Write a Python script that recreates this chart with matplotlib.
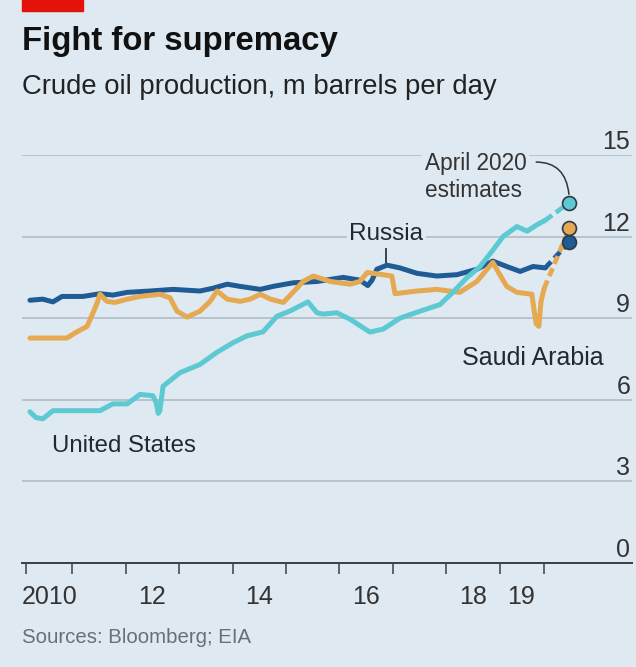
import matplotlib
matplotlib.use("Agg")
import matplotlib.pyplot as plt
import matplotlib.patches as patches

# Crude oil production, m barrels per day
us_years = [2010.21, 2010.32, 2010.45, 2010.64, 2010.96, 2011.52, 2011.76, 2012.03,
            2012.27, 2012.51, 2012.57, 2012.61, 2012.64, 2012.70, 2013.02, 2013.39,
            2013.71, 2014.01, 2014.27, 2014.57, 2014.83, 2015.07, 2015.41, 2015.58,
            2015.69, 2015.95, 2016.20, 2016.57, 2016.82, 2017.13, 2017.51, 2017.88,
            2018.12, 2018.39, 2018.63, 2018.87, 2019.06, 2019.32, 2019.51, 2019.70,
            2019.85]
us_values = [5.56, 5.35, 5.3, 5.6, 5.6, 5.6, 5.85, 5.85,
             6.2, 6.15, 5.9, 5.5, 5.6, 6.5, 7.0, 7.3,
             7.75, 8.1, 8.35, 8.5, 9.07, 9.26, 9.6, 9.2,
             9.15, 9.2, 8.96, 8.49, 8.6, 9.0, 9.26, 9.5,
             9.95, 10.5, 10.9, 11.5, 12.0, 12.37, 12.2, 12.44,
             12.6]

russia_years = [2010.21, 2010.45, 2010.64, 2010.81, 2011.20, 2011.52, 2011.76, 2012.03,
                2012.46, 2012.89, 2013.39, 2013.63, 2013.90, 2014.14, 2014.52, 2014.76,
                2015.13, 2015.58, 2016.07, 2016.38, 2016.53, 2016.61, 2016.70, 2016.89,
                2017.13, 2017.45, 2017.82, 2018.20, 2018.57, 2018.87, 2019.13, 2019.38,
                2019.62, 2019.85]
russia_values = [9.66, 9.7, 9.6, 9.8, 9.8, 9.9, 9.85, 9.95,
                 10.0, 10.06, 10.0, 10.1, 10.25, 10.17, 10.06, 10.17,
                 10.3, 10.35, 10.5, 10.4, 10.2, 10.4, 10.8, 10.95,
                 10.85, 10.65, 10.55, 10.6, 10.8, 11.1, 10.9, 10.72,
                 10.9, 10.85]

saudi_years = [2010.21, 2010.90, 2011.09, 2011.28, 2011.39, 2011.47, 2011.52, 2011.65,
               2011.80, 2012.03, 2012.27, 2012.64, 2012.83, 2012.96, 2013.15, 2013.39,
               2013.58, 2013.71, 2013.90, 2014.14, 2014.33, 2014.52, 2014.71, 2014.95,
               2015.13, 2015.32, 2015.51, 2015.83, 2016.20, 2016.38, 2016.52, 2016.81,
               2016.98, 2017.04, 2017.45, 2017.82, 2018.25, 2018.57, 2018.87, 2019.00,
               2019.13, 2019.32, 2019.60, 2019.64, 2019.68, 2019.73, 2019.77, 2019.83]
saudi_values = [8.27, 8.27, 8.5, 8.7, 9.2, 9.58, 9.88, 9.62,
                9.58, 9.7, 9.8, 9.88, 9.75, 9.26, 9.04, 9.26,
                9.62, 10.0, 9.7, 9.62, 9.7, 9.88, 9.7, 9.58,
                9.95, 10.35, 10.55, 10.35, 10.25, 10.35, 10.68, 10.6,
                10.55, 9.9, 10.0, 10.06, 9.95, 10.35, 11.05, 10.6,
                10.17, 9.95, 9.88, 9.3, 8.8, 8.7, 9.6, 10.1]

# April 2020 estimates
estimate_year = 2020.3
us_est = 13.25
saudi_est = 12.3
russia_est = 11.8

major_ticks = [2010.14, 2011, 2012, 2013, 2014, 2015, 2016, 2017, 2018, 2019, 2019.83]
label_pos = [2010.58, 2012.5, 2014.5, 2016.5, 2018.5, 2019.4]
label_text = ["2010", "12", "14", "16", "18", "19"]
y_levels = [0, 3, 6, 9, 12, 15]

BG = "#dfe9f1"
RUSSIA = "#1f5b95"
SAUDI = "#e5a951"
US = "#5dc9d2"
TXT = "#222831"
FONT = ["Liberation Sans", "DejaVu Sans"]

fig = plt.figure(figsize=(6.36, 6.67), dpi=100, facecolor=BG)
ax = fig.add_axes([22 / 636, 1 - 563 / 667, 610 / 636, 408 / 667])
ax.set_facecolor(BG)
ax.set_xlim(2010.061, 2021.473)
ax.set_ylim(0, 15)
for s in ["top", "left", "right"]:
    ax.spines[s].set_visible(False)
ax.spines["bottom"].set_color("#3a3f44")
ax.spines["bottom"].set_linewidth(1.4)

for v in y_levels[1:]:
    ax.axhline(v, color="#aeb8c0", lw=1.1, zorder=1)
for v in y_levels:
    ax.text(2021.44, v + 0.22, str(v), ha="right", va="baseline", fontsize=18,
            family=FONT, color="#333")

ax.set_yticks([])
ax.set_xticks(major_ticks)
ax.tick_params(axis="x", which="major", length=8, width=1.1, color="#3a3f44",
               labelbottom=False)
ax.set_xticks(label_pos, minor=True)
ax.set_xticklabels(label_text, minor=True)
ax.tick_params(axis="x", which="minor", length=0, pad=16, labelsize=18,
               labelcolor="#333")
for lbl in ax.get_xticklabels(minor=True):
    lbl.set_fontfamily(FONT)

# lines
ax.plot(russia_years, russia_values, color=RUSSIA, lw=3.6, zorder=3,
        solid_capstyle="round", solid_joinstyle="round")
ax.plot(saudi_years, saudi_values, color=SAUDI, lw=3.6, zorder=4,
        solid_capstyle="round", solid_joinstyle="round")
ax.plot(us_years, us_values, color=US, lw=3.6, zorder=5,
        solid_capstyle="round", solid_joinstyle="round")

for yrs, vals, est, col, z in [(russia_years, russia_values, russia_est, RUSSIA, 3),
                                (saudi_years, saudi_values, saudi_est, SAUDI, 4),
                                (us_years, us_values, us_est, US, 5)]:
    ax.plot([yrs[-1], estimate_year], [vals[-1], est], color=col, lw=3.4,
            dashes=(1.8, 1.0), zorder=z)
for est, col in [(russia_est, RUSSIA), (saudi_est, SAUDI), (us_est, US)]:
    ax.plot(estimate_year, est, "o", ms=10, mfc=col, mec="#2b3a48", mew=1.2,
            zorder=7, clip_on=False)

# annotations
box = dict(fc=BG, ec="none", pad=2)
ax.plot([2016.875, 2016.875], [10.98, 11.6], color=TXT, lw=1.2, zorder=2)
ax.text(2016.875, 11.87, "Russia", ha="center", va="baseline", fontsize=17.5,
        family=FONT, color=TXT, bbox=box, zorder=2)
ax.text(2018.295, 7.28, "Saudi Arabia", ha="left", va="baseline", fontsize=18,
        family=FONT, color=TXT)
ax.text(2010.62, 4.08, "United States", ha="left", va="baseline", fontsize=17.3,
        family=FONT, color=TXT)
ax.text(2017.60, 14.45, "April 2020", ha="left", va="baseline", fontsize=16.3,
        family=FONT, color="#333", bbox=box, zorder=2)
ax.text(2017.60, 13.46, "estimates", ha="left", va="baseline", fontsize=16.3,
        family=FONT, color="#333")
ax.annotate("", xy=(estimate_year, us_est), xytext=(2019.68, 14.74),
            arrowprops=dict(arrowstyle="-", color="#333", lw=1.1,
                            connectionstyle="angle3,angleA=0,angleB=90",
                            shrinkA=0, shrinkB=6), zorder=6)

# header and footer
fig.add_artist(patches.Rectangle((22 / 636, 1 - 11 / 667), 61 / 636, 11 / 667,
                                 transform=fig.transFigure, color="#e3120b"))
fig.text(22 / 636, 1 - 50 / 667, "Fight for supremacy", fontsize=23.7,
         weight="bold", family=FONT, va="baseline", color="#111")
fig.text(22 / 636, 1 - 94 / 667, "Crude oil production, m barrels per day",
         fontsize=19.8, family=FONT, va="baseline", color="#222")
fig.text(22 / 636, 1 - 643 / 667, "Sources: Bloomberg; EIA", fontsize=14.7,
         family=FONT, va="baseline", color="#6a6f73")

fig.savefig("out.png", dpi=100, facecolor=BG)
